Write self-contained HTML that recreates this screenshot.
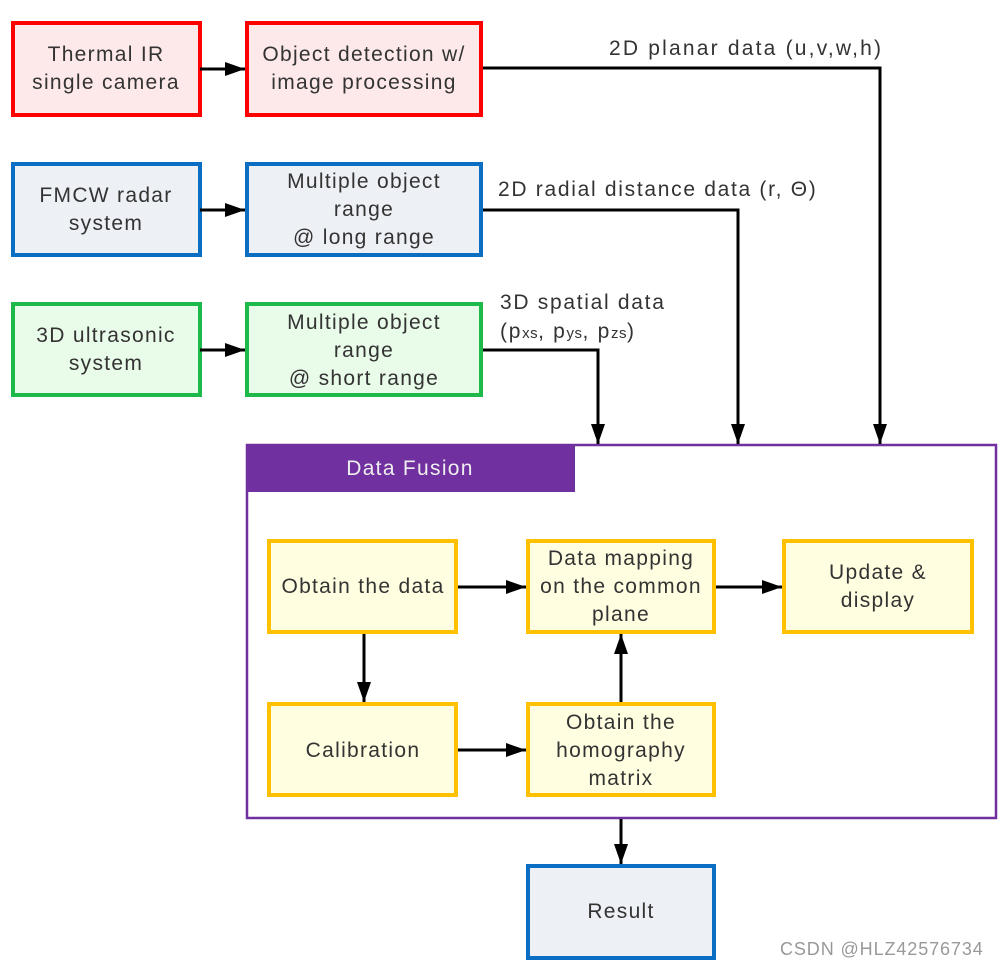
<!DOCTYPE html>
<html><head><style>
html,body{margin:0;padding:0;background:#fff;width:1001px;height:968px;overflow:hidden}
text{font-family:"Liberation Sans",sans-serif;font-size:21px;letter-spacing:1.3px;fill:#333}
.lbl{letter-spacing:1.7px}
</style></head><body>
<svg width="1001" height="968" viewBox="0 0 1001 968" xmlns="http://www.w3.org/2000/svg">
<defs>
<marker id="b" viewBox="0 0 20 14" markerWidth="20" markerHeight="14" refX="20" refY="7" orient="auto" markerUnits="userSpaceOnUse"><path d="M0,0 L20,7 L0,14 Z" fill="#000"/></marker></defs>
<g stroke-width="4">
<rect x="13" y="23" width="187" height="92" fill="#fde9e9" stroke="#f00"/>
<rect x="247" y="23" width="234" height="92" fill="#fde9e9" stroke="#f00"/>
<rect x="13" y="164" width="187" height="91" fill="#edf0f5" stroke="#0a6fc2"/>
<rect x="247" y="164" width="234" height="91" fill="#edf0f5" stroke="#0a6fc2"/>
<rect x="13" y="304" width="187" height="91" fill="#e9fbe9" stroke="#1db94a"/>
<rect x="247" y="304" width="234" height="91" fill="#e9fbe9" stroke="#1db94a"/>
<rect x="528" y="866" width="186" height="92" fill="#edf0f5" stroke="#0a6fc2"/>
</g>
<rect x="247" y="445" width="749" height="373" fill="none" stroke="#7030a0" stroke-width="2.5"/>
<rect x="246" y="444" width="329" height="48" fill="#7030a0"/>
<text x="410" y="475" text-anchor="middle" style="fill:#eee">Data Fusion</text>
<g stroke="#ffc000" stroke-width="4" fill="#fffee0">
<rect x="269" y="541" width="187" height="91"/>
<rect x="528" y="541" width="186" height="91"/>
<rect x="784" y="541" width="188" height="91"/>
<rect x="269" y="704" width="187" height="91"/>
<rect x="528" y="704" width="186" height="91"/>
</g>
<g stroke="#000" stroke-width="3" fill="none">
<line x1="200" y1="69" x2="245" y2="69" marker-end="url(#b)"/>
<line x1="200" y1="210" x2="245" y2="210" marker-end="url(#b)"/>
<line x1="200" y1="350" x2="245" y2="350" marker-end="url(#b)"/>
<polyline points="483,68 880,68 880,444" marker-end="url(#b)"/>
<polyline points="483,210 738,210 738,444" marker-end="url(#b)"/>
<polyline points="483,350 598,350 598,444" marker-end="url(#b)"/>
<line x1="458" y1="587" x2="526" y2="587" marker-end="url(#b)"/>
<line x1="716" y1="587" x2="782" y2="587" marker-end="url(#b)"/>
<line x1="364" y1="634" x2="364" y2="702" marker-end="url(#b)"/>
<line x1="458" y1="750" x2="526" y2="750" marker-end="url(#b)"/>
<line x1="621" y1="702" x2="621" y2="634" marker-end="url(#b)"/>
<line x1="621" y1="819" x2="621" y2="864" marker-end="url(#b)"/>
</g>
<g text-anchor="middle">
<text x="106" y="61">Thermal IR</text><text x="106" y="89">single camera</text>
<text x="364" y="61">Object detection w/</text><text x="364" y="89">image processing</text>
<text x="106" y="202">FMCW radar</text><text x="106" y="230">system</text>
<text x="364" y="188">Multiple object</text><text x="364" y="216">range</text><text x="364" y="244">@ long range</text>
<text x="106" y="342">3D ultrasonic</text><text x="106" y="370">system</text>
<text x="364" y="329">Multiple object</text><text x="364" y="357">range</text><text x="364" y="385">@ short range</text>
<text x="363" y="593">Obtain the data</text>
<text x="621" y="565">Data mapping</text><text x="621" y="593">on the common</text><text x="621" y="621">plane</text>
<text x="878" y="579">Update &amp;</text><text x="878" y="607">display</text>
<text x="363" y="757">Calibration</text>
<text x="621" y="729">Obtain the</text><text x="621" y="757">homography</text><text x="621" y="785">matrix</text>
<text x="621" y="918">Result</text>
</g>
<text class="lbl" x="609" y="55" style="letter-spacing:2.2px">2D planar data (u,v,w,h)</text>
<text class="lbl" x="498" y="196">2D radial distance data (r, Θ)</text>
<text class="lbl" x="500" y="309">3D spatial data</text>
<text class="lbl" x="500" y="338">(p<tspan style="font-size:15px;letter-spacing:0.5px">xs</tspan>, p<tspan style="font-size:15px;letter-spacing:0.5px">ys</tspan>, p<tspan style="font-size:15px;letter-spacing:0.5px">zs</tspan>)</text>
<text x="780" y="955" style="font-size:18px;letter-spacing:0.9px;fill:#999">CSDN @HLZ42576734</text>
</svg>
</body></html>
